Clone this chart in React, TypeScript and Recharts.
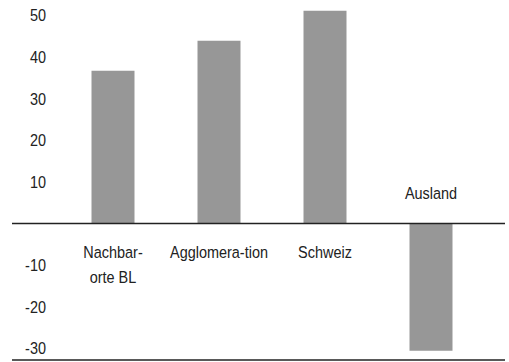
import React from 'react';
import { BarChart, Bar, XAxis, YAxis, ReferenceLine, LabelList } from 'recharts';

const categories = ['Nachbarorte BL', 'Agglomeration', 'Schweiz', 'Ausland'];
const labelLines = [['Nachbar-', 'orte BL'], ['Agglomera-tion'], ['Schweiz'], ['Ausland']];
const values = [36.7, 43.9, 51.1, -30.6];
const yTicks = [-30, -20, -10, 10, 20, 30, 40, 50];

const data = categories.map((name, i) => ({ name, value: values[i] }));

const FONT = '"Liberation Sans", Arial, sans-serif';
const NARROW = 0.85;

// condensed text: Liberation Sans squeezed horizontally to look like Arial Narrow
const NarrowText = ({ x, y, anchor, children }: any) => (
  <text
    transform={`translate(${x},${y}) scale(${NARROW},1)`}
    x={0}
    y={0}
    dy="0.355em"
    textAnchor={anchor}
    fill="#222"
    fontSize={17}
    fontFamily={FONT}
  >
    {children}
  </text>
);

const YTick = (props: any) => {
  const { y, payload } = props;
  return <NarrowText x={46} y={y} anchor="end">{payload.value}</NarrowText>;
};

const CategoryLabel = (props: any) => {
  const { x, y, width, height, index } = props;
  const v = values[index];
  const top = Math.min(y, y + height);
  const bottom = Math.max(y, y + height);
  const cx = x + width / 2;
  const lines = labelLines[index];
  if (v >= 0) {
    return (
      <g>
        {lines.map((l, i) => (
          <NarrowText key={i} x={cx} y={bottom + 28 + i * 25} anchor="middle">{l}</NarrowText>
        ))}
      </g>
    );
  }
  return <NarrowText x={cx} y={top - 31} anchor="middle">{lines[0]}</NarrowText>;
};

export default function App() {
  return (
    <div style={{ position: 'absolute', left: 0, top: 0, background: '#fff' }}>
      <BarChart width={509} height={362} data={data} margin={{ top: 0, right: 4, left: 0, bottom: 0 }}>
        <XAxis
          dataKey="name"
          tick={false}
          tickLine={false}
          height={2}
          padding={{ left: 47.5, right: 21.5 }}
          axisLine={{ stroke: '#222', strokeWidth: 1.5 }}
        />
        <YAxis
          width={12}
          domain={[-32.8, 53.7]}
          ticks={yTicks}
          interval={0}
          axisLine={false}
          tickLine={false}
          tick={YTick}
          allowDataOverflow
        />
        <ReferenceLine y={0} stroke="#222" strokeWidth={1.5} />
        <Bar dataKey="value" fill="#979797" barSize={43} isAnimationActive={false}>
          <LabelList dataKey="name" content={CategoryLabel} />
        </Bar>
      </BarChart>
    </div>
  );
}
